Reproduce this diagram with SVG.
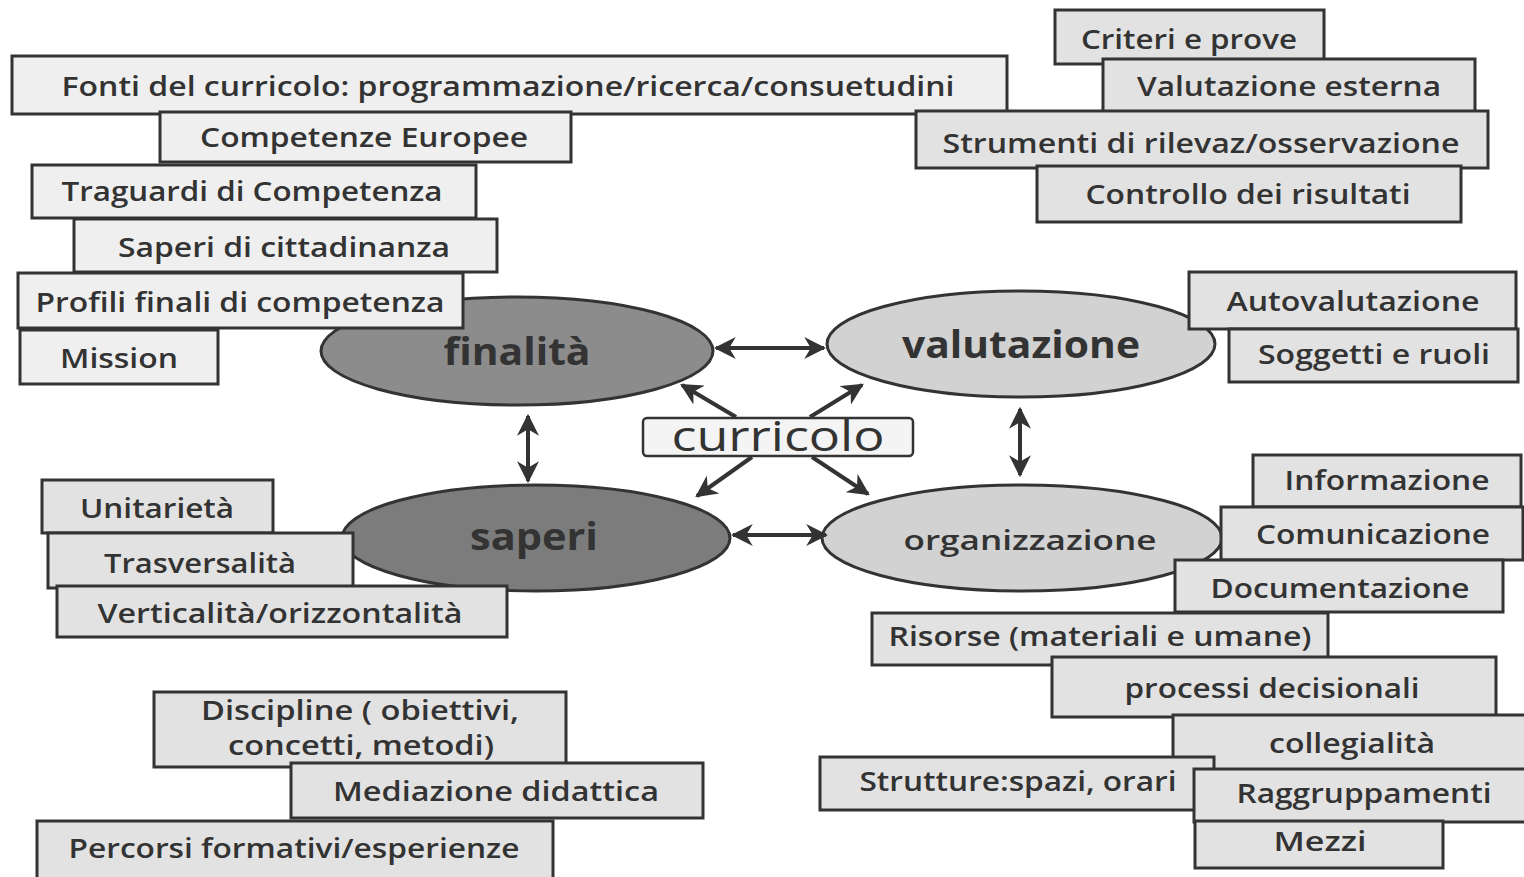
<svg xmlns="http://www.w3.org/2000/svg" width="1524" height="877" viewBox="0 0 1524 877">
<defs>
<marker id="ah" viewBox="0 0 10 10" refX="9" refY="5" markerWidth="5.5" markerHeight="5.5" orient="auto-start-reverse" markerUnits="strokeWidth">
<path d="M0,0 L10,5 L0,10 L3,5 z" fill="#333"/>
</marker>
</defs>
<style>
.bx{fill:#e2e2e2;stroke:#333;stroke-width:3}
.lt{fill:#efefef;stroke:#333;stroke-width:3}
.t{font-family:"Open Sans","Liberation Sans",sans-serif;font-weight:600;font-size:27px;fill:#333;text-anchor:middle}
.big{font-family:"Open Sans","Liberation Sans",sans-serif;font-weight:700;font-size:38px;fill:#333;text-anchor:middle}
.cn{stroke:#333;stroke-width:4;fill:none;marker-end:url(#ah)}
.dbl{marker-start:url(#ah)}
</style>
<rect width="1524" height="877" fill="#ffffff"/>

<g id="n-fonti"><rect class="lt" x="12" y="56" width="995" height="58"/><text class="t" x="508" y="96" textLength="893" lengthAdjust="spacingAndGlyphs">Fonti del curricolo: programmazione/ricerca/consuetudini</text></g>
<g id="n-competenze"><rect class="lt" x="160" y="112" width="411" height="50"/><text class="t" x="364" y="147" textLength="328" lengthAdjust="spacingAndGlyphs">Competenze Europee</text></g>
<g id="n-traguardi"><rect class="lt" x="32" y="165" width="444" height="53"/><text class="t" x="252" y="201" textLength="381" lengthAdjust="spacingAndGlyphs">Traguardi di Competenza</text></g>
<g id="n-saperi-citt"><rect class="lt" x="74" y="219" width="423" height="53"/><text class="t" x="284" y="257" textLength="332" lengthAdjust="spacingAndGlyphs">Saperi di cittadinanza</text></g>

<g id="n-finalita"><ellipse cx="517" cy="351" rx="196" ry="54" fill="#8c8c8c" stroke="#333" stroke-width="3"/><text class="big" x="517" y="365" textLength="147" lengthAdjust="spacingAndGlyphs">finalità</text></g>

<g id="n-profili"><rect class="lt" x="18" y="273" width="445" height="55"/><text class="t" x="240" y="312" textLength="409" lengthAdjust="spacingAndGlyphs">Profili finali di competenza</text></g>
<g id="n-mission"><rect class="lt" x="20" y="330" width="198" height="54"/><text class="t" x="119" y="368" textLength="118" lengthAdjust="spacingAndGlyphs">Mission</text></g>

<g id="n-criteri"><rect class="bx" x="1055" y="10" width="269" height="54"/><text class="t" x="1189" y="49" textLength="216" lengthAdjust="spacingAndGlyphs">Criteri e prove</text></g>
<g id="n-valest"><rect class="bx" x="1103" y="59" width="372" height="53"/><text class="t" x="1289" y="96" textLength="304" lengthAdjust="spacingAndGlyphs">Valutazione esterna</text></g>
<g id="n-strumenti"><rect class="bx" x="916" y="111" width="572" height="57"/><text class="t" x="1201" y="153" textLength="517" lengthAdjust="spacingAndGlyphs">Strumenti di rilevaz/osservazione</text></g>
<g id="n-controllo"><rect class="bx" x="1037" y="166" width="424" height="56"/><text class="t" x="1248" y="204" textLength="325" lengthAdjust="spacingAndGlyphs">Controllo dei risultati</text></g>

<g id="n-valutazione"><ellipse cx="1021" cy="344" rx="194" ry="53" fill="#d2d2d2" stroke="#333" stroke-width="3"/><text class="big" x="1021" y="358" textLength="238" lengthAdjust="spacingAndGlyphs">valutazione</text></g>
<g id="n-autoval"><rect class="bx" x="1189" y="272" width="327" height="57"/><text class="t" x="1353" y="311" textLength="253" lengthAdjust="spacingAndGlyphs">Autovalutazione</text></g>
<g id="n-soggetti"><rect class="bx" x="1229" y="329" width="289" height="53"/><text class="t" x="1374" y="364" textLength="232" lengthAdjust="spacingAndGlyphs">Soggetti e ruoli</text></g>

<g id="n-curricolo"><rect x="643" y="418" width="270" height="38" rx="4" fill="#f4f4f4" stroke="#333" stroke-width="2.5"/><text x="778" y="451" text-anchor="middle" font-family="'Open Sans','Liberation Sans',sans-serif" font-size="42" font-weight="500" fill="#333" textLength="213" lengthAdjust="spacingAndGlyphs">curricolo</text></g>

<g id="n-saperi"><ellipse cx="536" cy="538" rx="194" ry="53" fill="#7c7c7c" stroke="#333" stroke-width="3"/><text class="big" x="534" y="550" textLength="128" lengthAdjust="spacingAndGlyphs">saperi</text></g>
<g id="n-unitarieta"><rect class="bx" x="42" y="480" width="231" height="53"/><text class="t" x="157" y="518" textLength="154" lengthAdjust="spacingAndGlyphs">Unitarietà</text></g>
<g id="n-trasversalita"><rect class="bx" x="48" y="533" width="305" height="55"/><text class="t" x="200" y="573" textLength="192" lengthAdjust="spacingAndGlyphs">Trasversalità</text></g>
<g id="n-verticalita"><rect class="bx" x="57" y="586" width="450" height="51"/><text class="t" x="280" y="623" textLength="365" lengthAdjust="spacingAndGlyphs">Verticalità/orizzontalità</text></g>

<g id="n-organizzazione"><ellipse cx="1022" cy="538" rx="200" ry="53" fill="#d2d2d2" stroke="#333" stroke-width="3"/><text class="t" x="1030" y="550" font-size="32" textLength="253" lengthAdjust="spacingAndGlyphs">organizzazione</text></g>
<g id="n-informazione"><rect class="bx" x="1253" y="455" width="268" height="52"/><text class="t" x="1387" y="490" textLength="205" lengthAdjust="spacingAndGlyphs">Informazione</text></g>
<g id="n-comunicazione"><rect class="bx" x="1221" y="507" width="302" height="53"/><text class="t" x="1373" y="544" textLength="234" lengthAdjust="spacingAndGlyphs">Comunicazione</text></g>
<g id="n-documentazione"><rect class="bx" x="1175" y="560" width="328" height="52"/><text class="t" x="1340" y="598" textLength="259" lengthAdjust="spacingAndGlyphs">Documentazione</text></g>
<g id="n-risorse"><rect class="bx" x="872" y="613" width="456" height="52"/><text class="t" x="1100" y="646" textLength="423" lengthAdjust="spacingAndGlyphs">Risorse (materiali e umane)</text></g>
<g id="n-processi"><rect class="bx" x="1052" y="657" width="444" height="60"/><text class="t" x="1272" y="698" textLength="295" lengthAdjust="spacingAndGlyphs">processi decisionali</text></g>
<g id="n-collegialita"><rect class="bx" x="1173" y="715" width="353" height="55"/><text class="t" x="1352" y="753" textLength="166" lengthAdjust="spacingAndGlyphs">collegialità</text></g>
<g id="n-strutture"><rect class="bx" x="820" y="757" width="394" height="53"/><text class="t" x="1018" y="791" textLength="317" lengthAdjust="spacingAndGlyphs">Strutture:spazi, orari</text></g>
<g id="n-raggruppamenti"><rect class="bx" x="1194" y="769" width="332" height="53"/><text class="t" x="1364" y="803" textLength="255" lengthAdjust="spacingAndGlyphs">Raggruppamenti</text></g>
<g id="n-mezzi"><rect class="bx" x="1195" y="821" width="248" height="47"/><text class="t" x="1320" y="851" textLength="93" lengthAdjust="spacingAndGlyphs">Mezzi</text></g>

<g id="n-discipline"><rect class="bx" x="154" y="692" width="412" height="75"/><text class="t" x="360" y="720" font-size="23" textLength="318" lengthAdjust="spacingAndGlyphs">Discipline ( obiettivi,</text><text class="t" x="361" y="755" font-size="23" textLength="266" lengthAdjust="spacingAndGlyphs">concetti, metodi)</text></g>
<g id="n-mediazione"><rect class="bx" x="291" y="763" width="412" height="55"/><text class="t" x="496" y="801" textLength="326" lengthAdjust="spacingAndGlyphs">Mediazione didattica</text></g>
<g id="n-percorsi"><rect class="bx" x="37" y="821" width="516" height="58"/><text class="t" x="294" y="858" textLength="451" lengthAdjust="spacingAndGlyphs">Percorsi formativi/esperienze</text></g>

<g id="connectors">
<line class="cn dbl" x1="716" y1="348" x2="824" y2="348"/>
<line class="cn dbl" x1="733" y1="535" x2="826" y2="535"/>
<line class="cn dbl" x1="528" y1="416" x2="528" y2="481"/>
<line class="cn dbl" x1="1020" y1="409" x2="1020" y2="475"/>
<line class="cn" x1="736" y1="417" x2="682" y2="385"/>
<line class="cn" x1="810" y1="417" x2="862" y2="385"/>
<line class="cn" x1="752" y1="457" x2="697" y2="496"/>
<line class="cn" x1="812" y1="457" x2="868" y2="494"/>
</g>
</svg>
